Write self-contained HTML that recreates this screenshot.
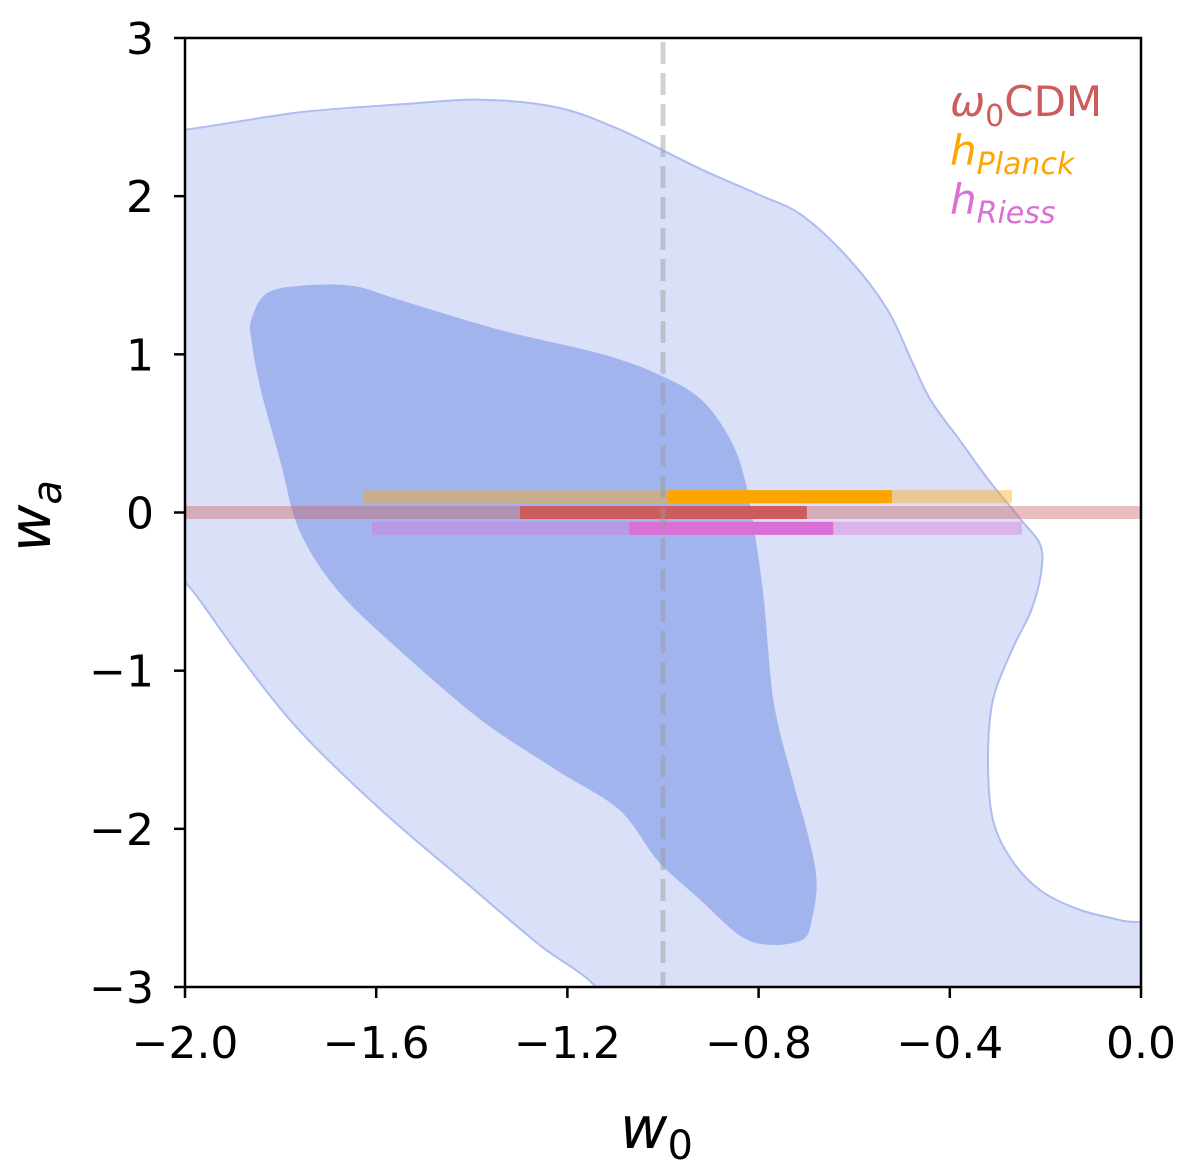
<!DOCTYPE html>
<html><head><meta charset="utf-8"><style>
body{margin:0;background:#fff}
svg text{font-family:"DejaVu Sans","Liberation Sans",sans-serif}
</style></head><body>
<svg id="chart" width="1200" height="1166" viewBox="0 0 1200 1166" xmlns="http://www.w3.org/2000/svg">
<defs><clipPath id="clip"><rect x="185" y="38" width="956" height="949"/></clipPath></defs>
<g id="plot" clip-path="url(#clip)"></g>
<g id="axes"></g>
<text x="950" y="116" font-size="42" fill="#cd5c5c"><tspan font-style="italic">ω</tspan><tspan font-size="30" dy="10">0</tspan><tspan dy="-10">CDM</tspan></text>
<text x="950" y="165" font-size="42" fill="#ffa500"><tspan font-style="italic">h</tspan><tspan font-size="30" dy="9" font-style="italic">Planck</tspan></text>
<text x="950" y="214" font-size="42" fill="#da70d6"><tspan font-style="italic">h</tspan><tspan font-size="30" dy="9" font-style="italic">Riess</tspan></text>
<text x="620" y="1148" font-size="58" font-style="italic">w<tspan font-size="40" font-style="normal" dy="11">0</tspan></text>
<text transform="translate(50,552) rotate(-90)" font-size="58" font-style="italic">w<tspan font-size="40" dy="11">a</tspan></text>
</svg>
<script>
const xTicks=[-2.0,-1.6,-1.2,-0.8,-0.4,0.0];
const xTickLabels=["−2.0","−1.6","−1.2","−0.8","−0.4","0.0"];
const yTicks=[3,2,1,0,-1,-2,-3];
const yTickLabels=["3","2","1","0","−1","−2","−3"];
const outerW0=[-2.15,-2.0,-1.76,-1.55,-1.38,-1.22,-1.09,-0.92,-0.80,-0.71,-0.61,-0.53,-0.48,-0.44,-0.38,-0.32,-0.25,-0.21,-0.21,-0.23,-0.27,-0.31,-0.32,-0.31,-0.27,-0.21,-0.13,-0.04,0.1,0.15,-1.05,-1.14,-1.26,-1.42,-1.59,-1.76,-1.88,-1.97,-2.05,-2.15];
const outerWa=[2.38,2.42,2.53,2.58,2.61,2.56,2.42,2.17,2.01,1.88,1.60,1.28,0.96,0.71,0.46,0.21,-0.05,-0.21,-0.40,-0.62,-0.87,-1.19,-1.56,-1.94,-2.20,-2.39,-2.51,-2.58,-2.68,-3.4,-3.4,-3.0,-2.73,-2.32,-1.88,-1.38,-0.93,-0.55,-0.22,0.5];
const innerW0=[-1.86,-1.83,-1.76,-1.65,-1.55,-1.34,-1.13,-1.01,-0.92,-0.86,-0.83,-0.81,-0.79,-0.77,-0.73,-0.70,-0.68,-0.69,-0.71,-0.78,-0.84,-0.92,-1.01,-1.09,-1.22,-1.38,-1.55,-1.68,-1.76,-1.80,-1.84,-1.86];
const innerWa=[1.22,1.38,1.43,1.43,1.34,1.15,1.0,0.87,0.71,0.46,0.21,-0.11,-0.55,-1.19,-1.69,-2.01,-2.32,-2.58,-2.70,-2.73,-2.67,-2.45,-2.20,-1.88,-1.63,-1.31,-0.87,-0.49,-0.11,0.33,0.77,1.09];
const barNames=["planck","w0cdm","riess"];
const barY=[0.1,0,-0.1];
const bar95Lo=[-1.628,-2.2,-1.609];
const bar95Hi=[-0.270,0.2,-0.249];
const bar68Lo=[-0.990,-1.299,-1.071];
const bar68Hi=[-0.521,-0.699,-0.644];
const refW0=-1.0;

const X0=185,X1=1141,Y0=38,Y1=987;
const xs=v=>X0+(v+2)/2*(X1-X0);
const ys=v=>Y0+(3-v)/6*(Y1-Y0);
const NS="http://www.w3.org/2000/svg";
const plot=document.getElementById('plot'),axes=document.getElementById('axes');
function mk(tag,attrs,parent){const e=document.createElementNS(NS,tag);for(const k in attrs)e.setAttribute(k,attrs[k]);parent.appendChild(e);return e;}
function smoothD(a,b){
  const p=a.map((v,i)=>[xs(v),ys(b[i])]);const n=p.length;
  let d='M'+p[0][0].toFixed(1)+','+p[0][1].toFixed(1);
  for(let i=0;i<n;i++){
    const p0=p[(i-1+n)%n],p1=p[i],p2=p[(i+1)%n],p3=p[(i+2)%n];
    const c1=[p1[0]+(p2[0]-p0[0])/6,p1[1]+(p2[1]-p0[1])/6];
    const c2=[p2[0]-(p3[0]-p1[0])/6,p2[1]-(p3[1]-p1[1])/6];
    d+='C'+c1[0].toFixed(1)+','+c1[1].toFixed(1)+' '+c2[0].toFixed(1)+','+c2[1].toFixed(1)+' '+p2[0].toFixed(1)+','+p2[1].toFixed(1);
  }
  return d+'Z';
}
let e=mk('path',{d:smoothD(outerW0,outerWa),fill:'#d9e0f7',stroke:'#aebcf0','stroke-width':2,'stroke-linejoin':'round'},plot);


e=mk('path',{d:smoothD(innerW0,innerWa),fill:'#a1b4ee',stroke:'#a1b4ee','stroke-width':1,'stroke-linejoin':'round'},plot);


const dark=['#ffa500','#cd5c5c','#da70d6'];
for(let i=0;i<barY.length;i++){
  const h=13,y=ys(barY[i])-h/2;
  let r=mk('rect',{x:xs(bar95Lo[i]),y:y,width:xs(bar95Hi[i])-xs(bar95Lo[i]),height:h,fill:dark[i],opacity:0.4},plot);
  
  
  r=mk('rect',{x:xs(bar68Lo[i]),y:y,width:xs(bar68Hi[i])-xs(bar68Lo[i]),height:h,fill:dark[i]},plot);
  
  
}
e=mk('line',{x1:xs(refW0),x2:xs(refW0),y1:Y0+4,y2:Y1,stroke:'#999','stroke-opacity':0.45,'stroke-width':5,'stroke-dasharray':'22,9'},plot);


e=mk('rect',{x:X0,y:Y0,width:X1-X0,height:Y1-Y0,fill:'none',stroke:'#000','stroke-width':2.5},axes);


xTicks.forEach((v,i)=>{
  const t=mk('line',{x1:xs(v),x2:xs(v),y1:Y1,y2:Y1+11,stroke:'#000','stroke-width':2.5},axes);
  
  
  const l=mk('text',{x:xs(v),y:1058,'font-size':44,'text-anchor':'middle'},axes);l.textContent=xTickLabels[i];
  
  
});
yTicks.forEach((v,i)=>{
  const t=mk('line',{x1:X0-11,x2:X0,y1:ys(v),y2:ys(v),stroke:'#000','stroke-width':2.5},axes);
  
  
  const l=mk('text',{x:154,y:ys(v)+16,'font-size':44,'text-anchor':'end'},axes);l.textContent=yTickLabels[i];
  
  
});
</script>
</body></html>
